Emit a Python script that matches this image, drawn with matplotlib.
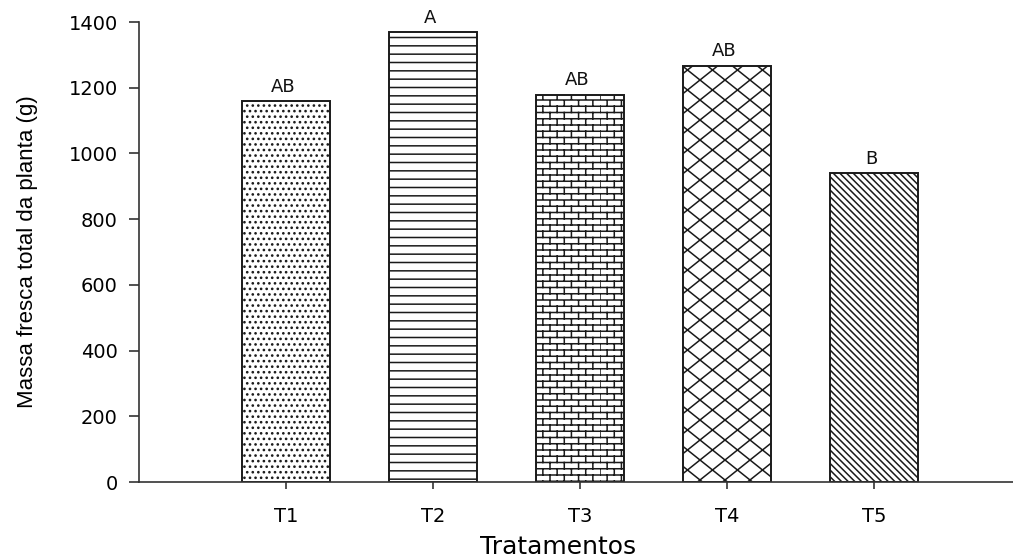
import warnings
import numpy as np
import matplotlib
matplotlib.use('Agg')
import matplotlib.pyplot as plt
import matplotlib.hatch as mhatch
from matplotlib.path import Path

warnings.filterwarnings('ignore')

tratamentos = ['T1', 'T2', 'T3', 'T4', 'T5']
massa = [1159, 1369, 1178, 1266, 940]
letras = ['AB', 'A', 'AB', 'AB', 'B']
hachuras = ['...', '--', 'b', 'd', '\\\\\\\\\\']


# brick pattern (no such hatch in matplotlib), triggered by 'b'
class Bricks(mhatch.HatchPatternBase):
    def __init__(self, hatch, density):
        self.num_rows = 16 * hatch.count('b')
        self.num_cols = 7
        if self.num_rows:
            self.num_vertices = 2 * (self.num_rows + 1 + self.num_rows * self.num_cols)
        else:
            self.num_vertices = 0

    def set_vertices_and_codes(self, vertices, codes):
        k = 0
        for i in range(self.num_rows + 1):
            y = i / self.num_rows
            vertices[k] = (0, y)
            vertices[k + 1] = (1, y)
            k += 2
        for i in range(self.num_rows):
            y0 = i / self.num_rows
            y1 = (i + 1) / self.num_rows
            for j in range(self.num_cols):
                x = (j + 0.5 * (i % 2)) / self.num_cols
                vertices[k] = (x, y0)
                vertices[k + 1] = (x, y1)
                k += 2
        codes[0::2] = Path.MOVETO
        codes[1::2] = Path.LINETO


# flat diamonds (wider than tall), triggered by 'd'
class Diamonds(mhatch.HatchPatternBase):
    def __init__(self, hatch, density):
        self.on = hatch.count('d') > 0
        self.nx = 4   # diamonds across one tile
        self.ny = 5   # diamonds up one tile
        self.starts = np.arange(-2 * self.nx, self.nx + 1) / self.nx
        self.num_vertices = 4 * len(self.starts) if self.on else 0

    def set_vertices_and_codes(self, vertices, codes):
        run = self.ny / self.nx  # x advance over the tile height
        k = 0
        for x0 in self.starts:
            vertices[k] = (x0, 0)
            vertices[k + 1] = (x0 + run, 1)
            vertices[k + 2] = (x0, 1)
            vertices[k + 3] = (x0 + run, 0)
            k += 4
        codes[0::2] = Path.MOVETO
        codes[1::2] = Path.LINETO


mhatch._hatch_types.append(Bricks)
mhatch._hatch_types.append(Diamonds)

plt.rcParams['font.family'] = ['DejaVu Sans']
plt.rcParams['hatch.linewidth'] = 1.1

fig = plt.figure(figsize=(10.13, 5.58), dpi=100)
W, H = 1013, 558
ax = fig.add_axes([139 / W, (H - 482) / H, (W - 139) / W, (482 - 22) / H])

x = np.arange(1, len(tratamentos) + 1)
for xi, v, h in zip(x, massa, hachuras):
    ax.bar(xi, v, width=0.605, color='white', edgecolor='#1a1a1a',
           linewidth=1.4, hatch=h, zorder=2)

for xi, v, l in zip(x, massa, letras):
    ax.annotate(l, (xi, v), xytext=(-2, 4), textcoords='offset points',
                ha='center', va='bottom', fontsize=13, color='#111111')

ax.set_xlim(0, (W - 139) / 147)
ax.set_ylim(0, 1400)
ax.set_yticks(np.arange(0, 1401, 200))
ax.set_xticks(x)
ax.set_xticklabels(tratamentos)

for s in ['top', 'right']:
    ax.spines[s].set_visible(False)
for s in ['left', 'bottom']:
    ax.spines[s].set_linewidth(1.2)
    ax.spines[s].set_color('#333333')

ax.tick_params(axis='y', direction='out', length=7.2, width=1.2, color='#333333',
               pad=8, labelsize=14)
ax.tick_params(axis='x', direction='out', length=5, width=1.2, color='#333333',
               pad=13, labelsize=14)

ax.set_ylabel('Massa fresca total da planta (g)', fontsize=16,
              family=['Liberation Sans', 'DejaVu Sans'])
ax.yaxis.set_label_coords(-101 / (W - 139), 0.5)
ax.set_xlabel('Tratamentos', fontsize=18)
ax.xaxis.set_label_coords((558 - 139) / (W - 139), -0.115)

fig.savefig('out.png', dpi=100)
